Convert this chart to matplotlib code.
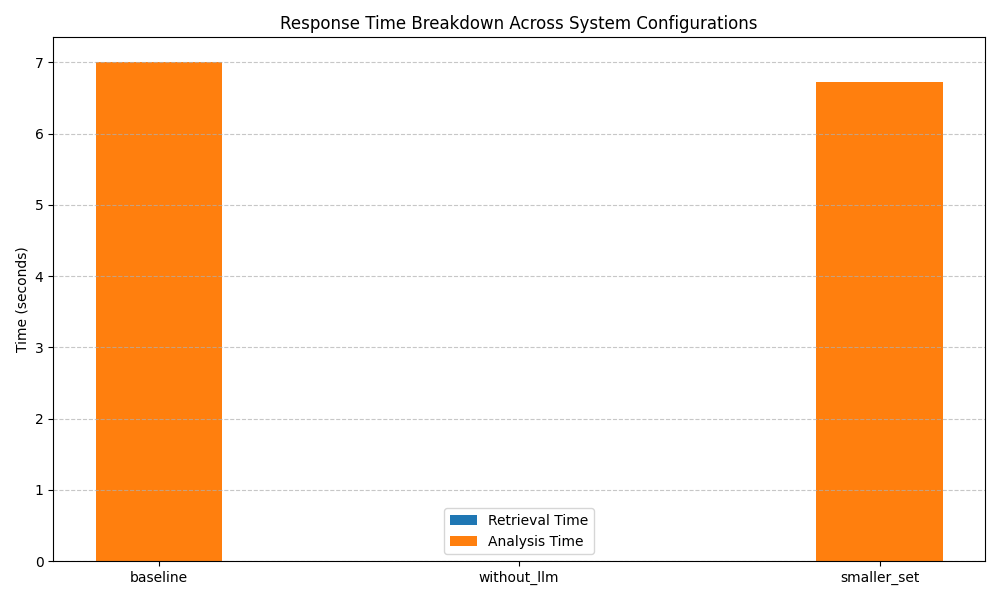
import numpy as np
import matplotlib.pyplot as plt

configs = ["baseline", "without_llm", "smaller_set"]
retrieval_time = [0.002, 0.0, 0.002]
analysis_time = [7.0, 0.0, 6.73]

x = np.arange(len(configs))
width = 0.35

fig, ax = plt.subplots(figsize=(10, 6))
ax.bar(x, retrieval_time, width, label="Retrieval Time")
ax.bar(x, analysis_time, width, bottom=retrieval_time, label="Analysis Time")

ax.set_ylabel("Time (seconds)")
ax.set_title("Response Time Breakdown Across System Configurations")
ax.set_xticks(x)
ax.set_xticklabels(configs)
ax.legend()
ax.grid(axis="y", linestyle="--", alpha=0.7)

plt.tight_layout()
plt.savefig("out.png", dpi=100)
